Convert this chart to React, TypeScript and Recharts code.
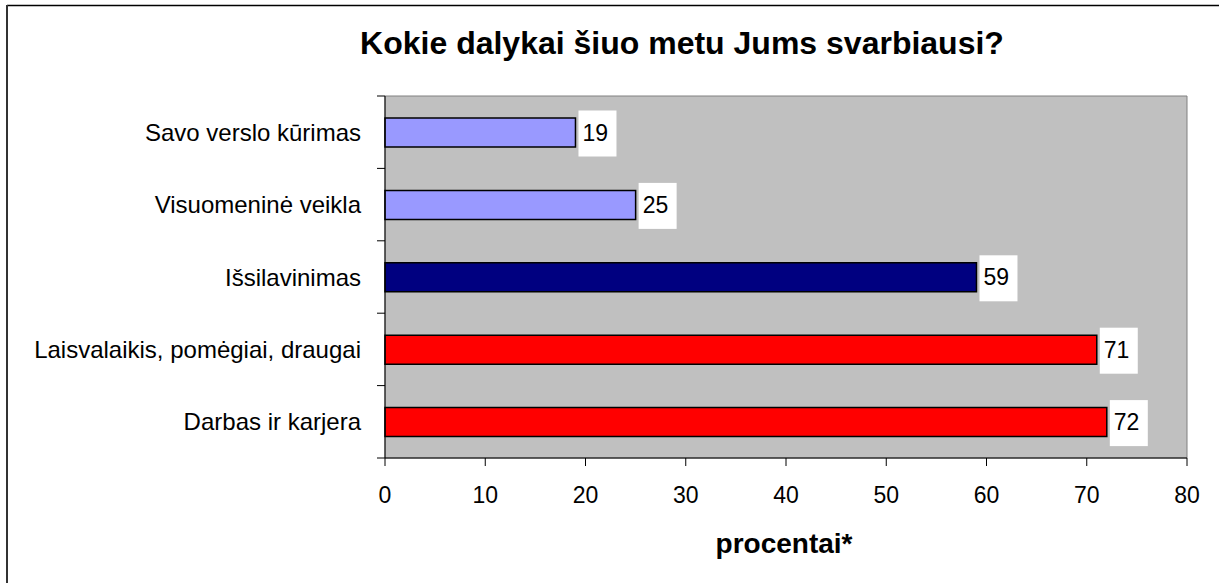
import React from 'react';
import { BarChart, Bar, XAxis, YAxis, CartesianGrid, Cell, LabelList, ReferenceArea } from 'recharts';

const categories = [
  'Savo verslo kūrimas',
  'Visuomeninė veikla',
  'Išsilavinimas',
  'Laisvalaikis, pomėgiai, draugai',
  'Darbas ir karjera',
];
const values = [19, 25, 59, 71, 72];
const groups = ['light', 'light', 'navy', 'red', 'red'];
const xTicks = [0, 10, 20, 30, 40, 50, 60, 70, 80];
const title = 'Kokie dalykai šiuo metu Jums svarbiausi?';
const xLabel = 'procentai*';

const palette: Record<string, string> = { light: '#9999FF', navy: '#000080', red: '#FF0000' };
const FONT = '"Liberation Sans", Arial, sans-serif';
const TICK_SIZE = 8;
const TICK_MARGIN = 16;

const data = categories.map((name, i) => ({ name, value: values[i], group: groups[i] }));

const ValueLabel = (props: any) => {
  const { x, y, width, height, value } = props;
  const bx = x + width + 3;
  const cy = y + height / 2;
  return (
    <g>
      <rect x={bx} y={cy - 22} width={38} height={46} fill="#FFFFFF" />
      <text x={bx + 4} y={cy} dominantBaseline="central" fontSize={23} fontFamily={FONT} fill="#000">
        {value}
      </text>
    </g>
  );
};

const CategoryTick = (props: any) => {
  const { x, y, payload, index, visibleTicksCount } = props;
  const half = payload && typeof payload.offset === 'number' ? payload.offset : 0;
  const lx2 = x + TICK_MARGIN + TICK_SIZE;
  const lx1 = x + TICK_MARGIN;
  const isLast = index === (visibleTicksCount ?? categories.length) - 1;
  return (
    <g>
      <line x1={lx1} x2={lx2} y1={y - half} y2={y - half} stroke="#000" />
      {isLast && <line x1={lx1} x2={lx2} y1={y + half} y2={y + half} stroke="#000" />}
      <text x={x} y={y} textAnchor="end" dominantBaseline="central" fontSize={24} fontFamily={FONT} fill="#000">
        {payload.value}
      </text>
    </g>
  );
};

export default function App() {
  return (
    <div style={{ position: 'absolute', left: 0, top: 0, width: 1219, height: 583, background: '#fff' }}>
      <BarChart
        width={1219}
        height={583}
        data={data}
        layout="vertical"
        margin={{ top: 96, right: 32, left: 0, bottom: 0 }}
        style={{ fontFamily: FONT }}
      >
        <CartesianGrid horizontal={false} vertical={false} fill="#C0C0C0" />
        <ReferenceArea x1={0} x2={80} fill="none" stroke="#808080" strokeWidth={1} ifOverflow="visible" />
        <XAxis
          type="number"
          dataKey="value"
          domain={[0, 80]}
          ticks={xTicks}
          interval={0}
          height={125}
          tickSize={TICK_SIZE}
          tickMargin={21}
          axisLine={{ stroke: '#000' }}
          tickLine={{ stroke: '#000' }}
          tick={{ fontSize: 23, fill: '#000', fontFamily: FONT }}
        />
        <YAxis
          type="category"
          dataKey="name"
          width={385}
          tickSize={TICK_SIZE}
          tickMargin={TICK_MARGIN}
          tickLine={false}
          interval={0}
          axisLine={{ stroke: '#000' }}
          tick={<CategoryTick />}
        />
        <Bar dataKey="value" barSize={29} stroke="#000" strokeWidth={1.5} isAnimationActive={false}>
          {data.map((d, i) => (
            <Cell key={i} fill={palette[d.group]} />
          ))}
          <LabelList dataKey="value" content={ValueLabel} />
        </Bar>
        <text x={682} y={54} textAnchor="middle" fontSize={32} fontWeight="bold" fontFamily={FONT} fill="#000">
          {title}
        </text>
        <text x={784} y={553} textAnchor="middle" fontSize={28} fontWeight="bold" fontFamily={FONT} fill="#000">
          {xLabel}
        </text>
        <line x1={7} y1={5.5} x2={1219} y2={5.5} stroke="#000" strokeWidth={1.5} />
        <line x1={7} y1={5} x2={7} y2={583} stroke="#333" strokeWidth={2} />
      </BarChart>
    </div>
  );
}
